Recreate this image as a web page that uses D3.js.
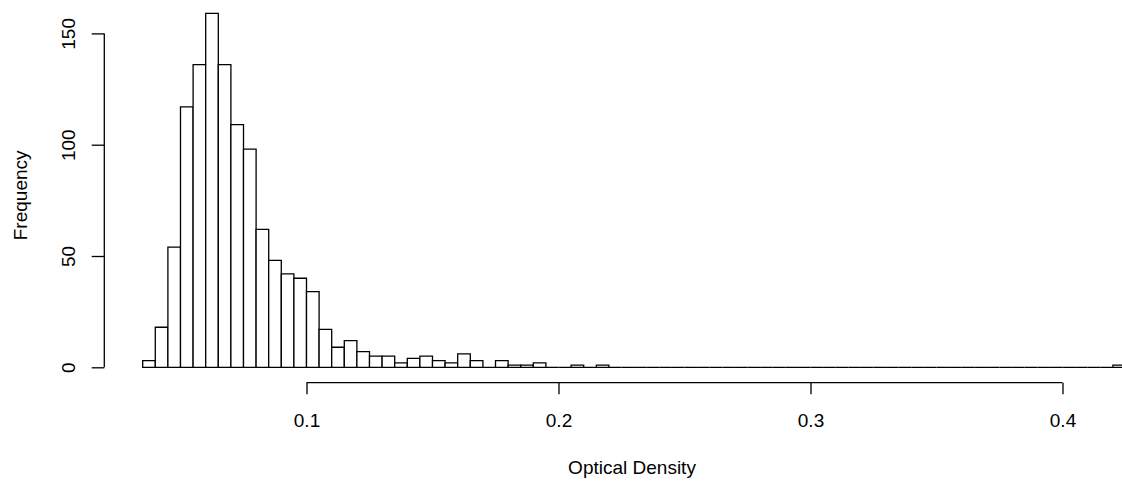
<!DOCTYPE html>
<html>
<head>
<meta charset="utf-8">
<script src="https://cdn.jsdelivr.net/npm/d3@7"></script>
<style>
  html, body { margin: 0; padding: 0; background: #fff; }
  svg { display: block; font-family: "Liberation Sans", Arial, Helvetica, sans-serif; }
</style>
</head>
<body>
<svg id="chart" width="1122" height="483"></svg>
<script>
// Histogram bins: start 0.035, width 0.005
const binStart = 0.035;
const binWidth = 0.005;
const counts = [3, 18, 54, 117, 136, 159, 136, 109, 98, 62, 48, 42, 40, 34, 17, 9, 12, 7, 5, 5,
  2, 4, 5, 3, 2, 6, 3, 0, 3, 1, 1, 2, 0, 0, 1, 0, 1, 0, 0, 0,
  0, 0, 0, 0, 0, 0, 0, 0, 0, 0, 0, 0, 0, 0, 0, 0, 0, 0, 0, 0,
  0, 0, 0, 0, 0, 0, 0, 0, 0, 0, 0, 0, 0, 0, 0, 0, 0, 1];
const xTicks = [0.1, 0.2, 0.3, 0.4];
const yTicks = [0, 50, 100, 150];
const xTitle = "Optical Density";
const yTitle = "Frequency";

const svg = d3.select("#chart");
const x = d3.scaleLinear().domain([0.1, 0.4]).range([306.5, 1062.5]);
const y = d3.scaleLinear().domain([0, 150]).range([367.3, 33.4]);

const bins = counts.map((c, i) => ({ x0: binStart + i * binWidth, x1: binStart + (i + 1) * binWidth, c }));

svg.append("g").selectAll("path").data(bins).join("path")
  .attr("d", d => {
    const x0 = x(d.x0), x1 = x(d.x1), y0 = y(0), y1 = y(d.c);
    return `M${x0},${y0}H${x1}V${y1}H${x0}Z`;
  })
  .attr("fill", "#fff")
  .attr("stroke", "#000")
  .attr("stroke-width", 1.3);

// x axis
const xAxis = d3.axisBottom(x).tickValues(xTicks).tickSize(11.6).tickPadding(19).tickFormat(d3.format(".1f"));
const gx = svg.append("g").attr("transform", "translate(0,382.7)").call(xAxis);
gx.select(".domain").attr("d", `M${x(xTicks[0])},0H${x(xTicks[xTicks.length - 1])}`).attr("stroke", "#000").attr("stroke-width", 1.3);
gx.selectAll(".tick line").attr("stroke", "#000").attr("stroke-width", 1.3);
gx.selectAll(".tick text").attr("font-size", 19).attr("fill", "#000")
  .attr("font-family", "Liberation Sans, Arial, sans-serif");

// y axis
const yAxis = d3.axisLeft(y).tickValues(yTicks).tickSize(12.6).tickFormat(d3.format("d"));
const gy = svg.append("g").attr("transform", "translate(104.3,0)").call(yAxis);
gy.select(".domain").attr("d", `M0,${y(yTicks[0])}V${y(yTicks[yTicks.length - 1])}`).attr("stroke", "#000").attr("stroke-width", 1.3);
gy.selectAll(".tick line").attr("stroke", "#000").attr("stroke-width", 1.3);
gy.selectAll(".tick text").remove();
gy.selectAll(".tick").append("text")
  .attr("transform", "translate(-36,0) rotate(-90)")
  .attr("text-anchor", "middle")
  .attr("dominant-baseline", "central")
  .attr("font-size", 19)
  .attr("fill", "#000")
  .text(d => d3.format("d")(d));

// titles
svg.append("text")
  .attr("x", x(0.25) - 130 + 130 * 0)
  .attr("x", 632)
  .attr("y", 467)
  .attr("text-anchor", "middle")
  .attr("dominant-baseline", "central")
  .attr("font-size", 19)
  .text(xTitle);

svg.append("text")
  .attr("transform", `translate(20,${(y(0) + y(150)) / 2 - 5}) rotate(-90)`)
  .attr("text-anchor", "middle")
  .attr("dominant-baseline", "central")
  .attr("font-size", 19)
  .text(yTitle);
</script>
</body>
</html>
